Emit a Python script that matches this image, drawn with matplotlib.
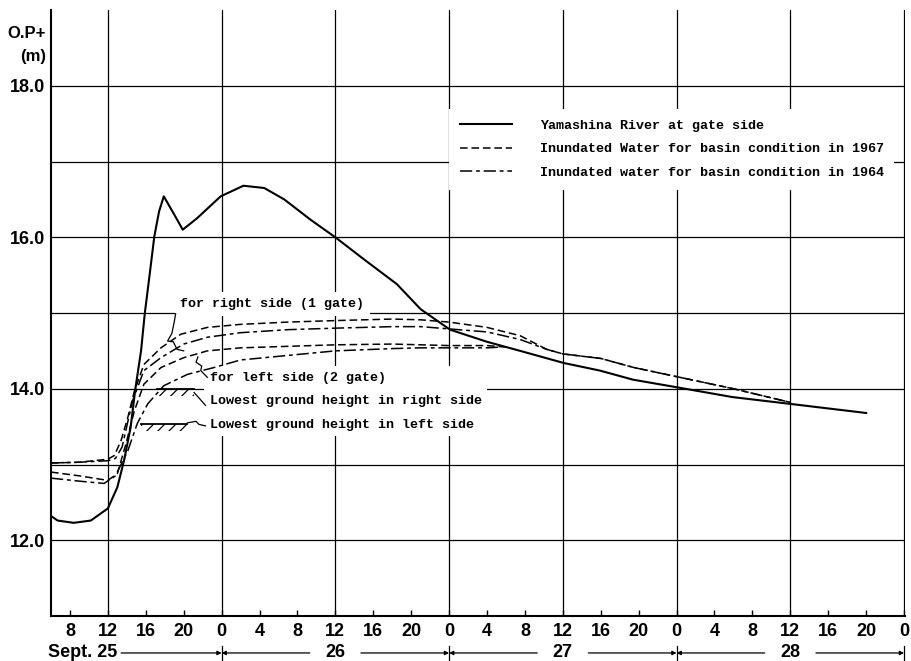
import matplotlib
matplotlib.use("Agg")
import matplotlib.pyplot as plt

# hours counted from Sept. 25 00:00, water level in O.P.+ metres
river_hours = [6, 6.7, 8.4, 10.2, 12, 13, 13.7, 14.4, 14.9, 15.5, 15.9, 16.4, 16.9, 17.4, 17.9,
               19.0, 19.9, 21.4, 23.9, 26.3, 28.5, 30.6, 33.4, 36.1, 39.0, 42.5, 45.0, 48.1,
               52.0, 55.5, 60.1, 63.9, 67.4, 72.0, 77.9, 84.0, 92.0]
river_level = [12.32, 12.26, 12.23, 12.26, 12.42, 12.70, 13.05, 13.49, 14.00, 14.50, 15.00, 15.50,
               16.01, 16.34, 16.54, 16.30, 16.10, 16.25, 16.54, 16.68, 16.65, 16.50, 16.23, 15.99,
               15.71, 15.38, 15.05, 14.78, 14.62, 14.50, 14.34, 14.24, 14.12, 14.02, 13.89, 13.80, 13.68]

right67_hours = [6, 9, 12, 12.7, 13.4, 14.1, 14.8, 15.8, 17.6, 19.7, 22.5, 26, 31, 36, 42, 45,
                 48, 52, 55.5, 58.3, 60, 64, 67.5, 72, 78, 84]
right67_level = [13.02, 13.03, 13.07, 13.12, 13.32, 13.62, 13.97, 14.32, 14.54, 14.72, 14.81, 14.85,
                 14.88, 14.90, 14.92, 14.91, 14.88, 14.81, 14.70, 14.52, 14.46, 14.40, 14.28, 14.16,
                 14.00, 13.82]

left67_hours = [6, 9, 12, 13, 13.9, 14.8, 15.8, 17.6, 20, 22.5, 26, 31, 36, 42, 45, 48, 52, 54]
left67_level = [12.90, 12.85, 12.79, 12.88, 13.27, 13.71, 14.06, 14.28, 14.41, 14.50, 14.54, 14.56,
                14.58, 14.59, 14.58, 14.57, 14.57, 14.55]

right64_hours = [6, 9, 12, 12.8, 13.5, 14.6, 15.8, 17.6, 20, 22.5, 26, 31, 36, 42, 45, 48, 52,
                 55.5, 58.3, 60, 64, 67.5, 72, 78, 84]
right64_level = [13.02, 13.03, 13.05, 13.08, 13.23, 13.84, 14.24, 14.41, 14.59, 14.68, 14.74, 14.78,
                 14.80, 14.82, 14.82, 14.79, 14.75, 14.65, 14.52, 14.46, 14.40, 14.28, 14.16, 14.00,
                 13.82]

left64_hours = [6, 9, 11.6, 12.8, 14.1, 15.1, 16.2, 17.9, 20.4, 23.2, 26, 31, 36, 42, 45, 48, 52, 53.5]
left64_level = [12.82, 12.78, 12.75, 12.85, 13.18, 13.54, 13.80, 14.04, 14.19, 14.28, 14.38, 14.44,
                14.50, 14.53, 14.54, 14.54, 14.54, 14.55]

ground_right = 14.0
ground_left = 13.53

tick_hours = list(range(8, 97, 4))
grid_hours = list(range(12, 97, 12))
grid_levels = [12, 13, 14, 15, 16, 17, 18]
ylabel_levels = [12, 14, 16, 18]
days = ["Sept. 25", "26", "27", "28"]

legend_labels = ["Yamashina River at gate side",
                 "Inundated Water for basin condition in 1967",
                 "Inundated water for basin condition in 1964"]

sans = dict(family=["Liberation Sans", "DejaVu Sans"], weight="bold")
mono = dict(family=["Liberation Mono", "DejaVu Sans Mono"], weight="bold", size=9.6)
DASH = (0, (5, 2.5))
DASHDOT = (0, (8, 2.5, 2.5, 2.5))

plt.rcParams["hatch.linewidth"] = 0.9

fig = plt.figure(figsize=(9.12, 6.61), dpi=100)
ax = fig.add_axes([51 / 912, 45 / 661, 854 / 912, 606 / 661])
ax.set_xlim(6, 96.1)
ax.set_ylim(11, 19)

for h in grid_hours:
    ax.axvline(h, color="k", lw=0.9, zorder=1)
for v in grid_levels:
    ax.axhline(v, color="k", lw=0.9, zorder=1)

ax.plot(river_hours, river_level, color="k", lw=1.5, zorder=4, label=legend_labels[0])
ax.plot(right67_hours, right67_level, color="k", lw=1.1, ls=DASH, zorder=4, label=legend_labels[1])
ax.plot(left67_hours, left67_level, color="k", lw=1.1, ls=DASH, zorder=4)
ax.plot(right64_hours, right64_level, color="k", lw=1.1, ls=DASHDOT, zorder=4, label=legend_labels[2])
ax.plot(left64_hours, left64_level, color="k", lw=1.1, ls=DASHDOT, zorder=4)

# lowest ground symbols
ax.plot([17.2, 21.1], [ground_right, ground_right], color="k", lw=1.3, zorder=4)
ax.fill_between([17.2, 21.1], ground_right - 0.09, ground_right, facecolor="none",
                edgecolor="k", hatch="///", lw=0, zorder=4)
ax.plot([15.5, 20.4], [ground_left, ground_left], color="k", lw=1.3, zorder=4)
ax.fill_between([15.5, 20.4], ground_left - 0.09, ground_left, facecolor="none",
                edgecolor="k", hatch="///", lw=0, zorder=4)
ax.plot([21.1, 21.6, 22.3], [13.95, 13.88, 13.78], color="k", lw=0.9, zorder=4)
ax.plot([20.4, 21.3, 21.6, 22.3], [13.55, 13.57, 13.53, 13.51], color="k", lw=0.9, zorder=4)

# brackets
ax.plot([19.15, 19.0, 18.75, 18.3, 18.9, 19.3, 20.0],
        [14.99, 14.88, 14.73, 14.63, 14.62, 14.52, 14.50], color="k", lw=0.9, zorder=4)
ax.plot([21.5, 21.3, 21.9, 21.8, 22.5],
        [14.42, 14.35, 14.30, 14.24, 14.15], color="k", lw=0.9, zorder=4)

white = dict(facecolor="white", edgecolor="none", pad=4)
ax.text(19.65, 15.12, "for right side (1 gate)", va="center", ha="left", zorder=3,
        bbox=white, **mono)
ax.text(22.75, 14.22, "for left side (2 gate)\nLowest ground height in right side\n"
        "Lowest ground height in left side", va="top", ha="left", linespacing=2.25,
        zorder=3, bbox=white, **mono)

leg = ax.legend(loc="upper left", bbox_to_anchor=(0.466, 0.837), borderaxespad=0,
                handlelength=3.9, handletextpad=2.1, labelspacing=0.85, borderpad=0.8,
                frameon=True, fancybox=False, prop=mono)
leg.get_frame().set_facecolor("white")
leg.get_frame().set_edgecolor("none")
leg.get_frame().set_alpha(1)

for side in ["top", "right"]:
    ax.spines[side].set_visible(False)
for side in ["left", "bottom"]:
    ax.spines[side].set_linewidth(1.5)

ax.set_xticks(tick_hours)
ax.set_xticklabels([str(h % 24) for h in tick_hours], size=13, **sans)
ax.tick_params(axis="x", direction="in", length=4, width=1, pad=5)
ax.set_yticks(ylabel_levels)
ax.set_yticklabels([f"{v:.1f}" for v in ylabel_levels], size=13, **sans)
ax.tick_params(axis="y", length=0, pad=4)

fig.text(46 / 912, 1 - 33 / 661, "O.P+", ha="right", va="center", size=12, **sans)
fig.text(46 / 912, 1 - 56 / 661, "(m)", ha="right", va="center", size=12, **sans)

# day row under the hour labels
tr = ax.get_xaxis_transform()
row_y = -0.061
arrow = dict(arrowstyle="-|>", color="k", lw=0.9, mutation_scale=6, shrinkA=0, shrinkB=0)
for i, day in enumerate(days):
    start, end = i * 24, i * 24 + 24
    if i == 0:
        ax.text(5.7, row_y, day, transform=tr, ha="left", va="center", size=13, **sans)
        ax.annotate("", xy=(end, row_y), xytext=(13.4, row_y), xycoords=tr,
                    textcoords=tr, arrowprops=arrow, annotation_clip=False)
    else:
        mid = start + 12
        ax.text(mid, row_y, day, transform=tr, ha="center", va="center", size=13, **sans)
        ax.annotate("", xy=(start, row_y), xytext=(mid - 2.7, row_y), xycoords=tr,
                    textcoords=tr, arrowprops=arrow, annotation_clip=False)
        ax.annotate("", xy=(end, row_y), xytext=(mid + 2.7, row_y), xycoords=tr,
                    textcoords=tr, arrowprops=arrow, annotation_clip=False)
    ax.plot([end, end], [row_y + 0.012, row_y - 0.012], transform=tr, color="k",
            lw=0.9, clip_on=False)

fig.savefig("out.png", dpi=100)
